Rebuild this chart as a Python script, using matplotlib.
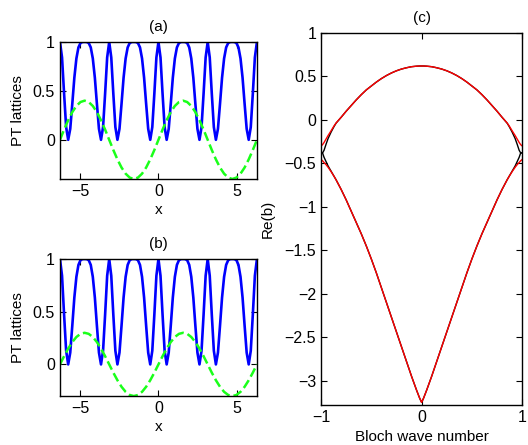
import numpy as np
import matplotlib
matplotlib.use('Agg')
import matplotlib.pyplot as plt

plt.rcParams['font.family'] = ['Liberation Sans', 'DejaVu Sans']
plt.rcParams['font.size'] = 11

# lattice curves, sampled every pi/24 (blue) and pi/12 (green) from -2pi to 2pi
blue = [1, .841, .472, .130, 0, .112, .367, .634, .831, .944, .989, .999,
        1, .999, .989, .944, .831, .634, .367, .112, 0, .130, .472, .841,
        1, .841, .472, .130, 0, .112, .367, .634, .831, .944, .989, .999,
        1, .999, .989, .944, .831, .634, .367, .112, 0, .130, .472, .841,
        1, .841, .472, .130, 0, .112, .367, .634, .831, .944, .989, .999,
        1, .999, .989, .944, .831, .634, .367, .112, 0, .130, .472, .841,
        1, .841, .472, .130, 0, .112, .367, .634, .831, .944, .989, .999,
        1, .999, .989, .944, .831, .634, .367, .112, 0, .130, .472, .841,
        1]
green_a = [0, .104, .2, .283, .346, .386, .4, .386, .346, .283, .2, .104,
           0, -.104, -.2, -.283, -.346, -.386, -.4, -.386, -.346, -.283, -.2, -.104,
           0, .104, .2, .283, .346, .386, .4, .386, .346, .283, .2, .104,
           0, -.104, -.2, -.283, -.346, -.386, -.4, -.386, -.346, -.283, -.2, -.104,
           0]
green_b = [0, .078, .15, .212, .26, .29, .3, .29, .26, .212, .15, .078,
           0, -.078, -.15, -.212, -.26, -.29, -.3, -.29, -.26, -.212, -.15, -.078,
           0, .078, .15, .212, .26, .29, .3, .29, .26, .212, .15, .078,
           0, -.078, -.15, -.212, -.26, -.29, -.3, -.29, -.26, -.212, -.15, -.078,
           0]
x_blue = np.linspace(-2*np.pi, 2*np.pi, len(blue))
x_green = np.linspace(-2*np.pi, 2*np.pi, len(green_a))

# band structure
k = [-1, -.985, -.97, -.95, -.93, -.9, -.87, -.85, -.8, -.75, -.7, -.65, -.6,
     -.55, -.5, -.45, -.4, -.35, -.3, -.25, -.2, -.15, -.1, -.05, -.02, 0,
     .02, .05, .1, .15, .2, .25, .3, .35, .4, .45, .5, .55, .6, .65, .7, .75,
     .8, .85, .87, .9, .93, .95, .97, .985, 1]
red_up = [-.30, -.285, -.26, -.22, -.18, -.125, -.068, -.035, .03, .10, .165, .23, .29,
          .345, .39, .435, .475, .51, .54, .565, .585, .60, .612, .618, .62, .62,
          .62, .618, .612, .60, .585, .565, .54, .51, .475, .435, .39, .345, .29, .23, .165, .10,
          .03, -.035, -.068, -.125, -.18, -.22, -.26, -.285, -.30]
red_lo = [-.455, -.47, -.49, -.515, -.545, -.595, -.65, -.69, -.80, -.92, -1.05, -1.18, -1.31,
          -1.45, -1.60, -1.76, -1.93, -2.10, -2.27, -2.44, -2.61, -2.78, -2.95, -3.11, -3.20, -3.25,
          -3.20, -3.11, -2.95, -2.78, -2.61, -2.44, -2.27, -2.10, -1.93, -1.76, -1.60, -1.45, -1.31,
          -1.18, -1.05, -.92, -.80, -.69, -.65, -.595, -.545, -.515, -.49, -.47, -.455]
black_up = [-.38, -.38, -.35, -.28, -.215, -.14, -.075, -.037, .03, .10, .165, .23, .29,
            .345, .39, .435, .475, .51, .54, .565, .585, .60, .612, .618, .62, .62,
            .62, .618, .612, .60, .585, .565, .54, .51, .475, .435, .39, .345, .29, .23, .165, .10,
            .03, -.037, -.075, -.14, -.215, -.28, -.35, -.38, -.38]
black_lo = [-.38, -.38, -.43, -.48, -.53, -.59, -.65, -.69, -.80, -.92, -1.05, -1.18, -1.31,
            -1.45, -1.60, -1.76, -1.93, -2.10, -2.27, -2.44, -2.61, -2.78, -2.95, -3.11, -3.20, -3.25,
            -3.20, -3.11, -2.95, -2.78, -2.61, -2.44, -2.27, -2.10, -1.93, -1.76, -1.60, -1.45, -1.31,
            -1.18, -1.05, -.92, -.80, -.69, -.65, -.59, -.53, -.48, -.43, -.38, -.38]

fig = plt.figure(figsize=(5.28, 4.45), dpi=100)
ax_a = fig.add_axes([0.1136, 0.5978, 0.373, 0.308])
ax_b = fig.add_axes([0.1136, 0.110, 0.373, 0.308])
ax_c = fig.add_axes([0.608, 0.0899, 0.381, 0.836])

for ax, g, lo, name in [(ax_a, green_a, -0.4, '(a)'), (ax_b, green_b, -0.3, '(b)')]:
    ax.plot(x_blue, blue, color=(0, 0, 1), lw=1.9)
    ax.plot(x_green, g, '--', color=(0.1, 1, 0.1), lw=1.8)
    ax.set_xlim(-2*np.pi, 2*np.pi)
    ax.set_ylim(lo, 1)
    ax.set_xticks([-5, 0, 5])
    ax.set_yticks([0, 0.5, 1])
    ax.set_yticklabels(['0', '0.5', '1'])
    ax.set_xlabel('x', labelpad=3)
    ax.set_ylabel('PT lattices', labelpad=6)
    ax.set_title(name, fontsize=11, pad=8)

ax_c.plot(k, black_up, 'k', lw=1)
ax_c.plot(k, black_lo, 'k', lw=1)
ax_c.plot(k, red_up, 'r', lw=1)
ax_c.plot(k, red_lo, 'r', lw=1)
ax_c.set_xlim(-1, 1)
ax_c.set_ylim(-3.28, 1)
ax_c.set_xticks([-1, 0, 1])
ax_c.set_yticks([-3, -2.5, -2, -1.5, -1, -0.5, 0, 0.5, 1])
ax_c.set_yticklabels(['\u22123', '\u22122.5', '\u22122', '\u22121.5', '\u22121', '\u22120.5', '0', '0.5', '1'])
ax_c.set_xlabel('Bloch wave number', labelpad=4)
ax_c.set_ylabel('Re(b)', labelpad=7)
ax_c.set_title('(c)', fontsize=11, pad=8)

for ax in [ax_a, ax_b, ax_c]:
    ax.tick_params(direction='in', top=True, right=True, length=4, width=0.8, labelsize=11.5)
    for s in ax.spines.values():
        s.set_linewidth(1)

fig.savefig('out.png', dpi=100)
